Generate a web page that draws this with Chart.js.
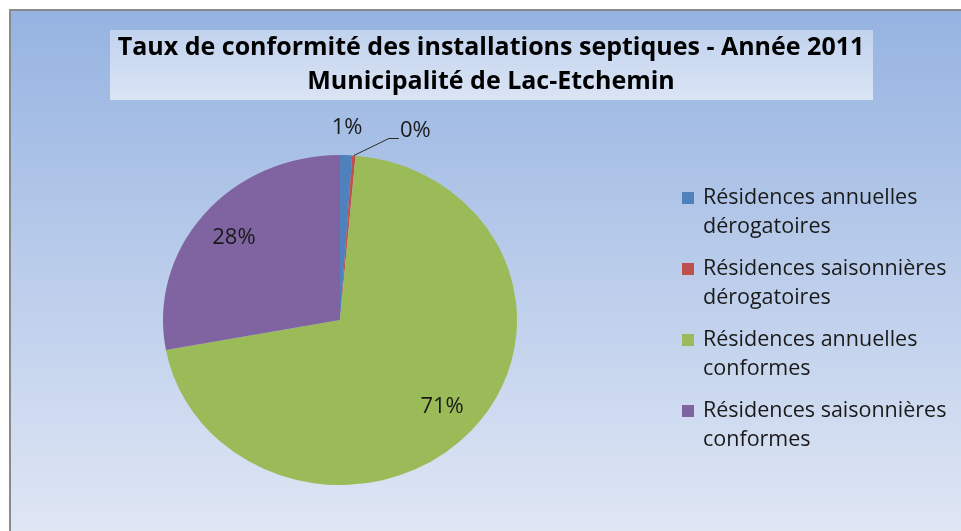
<!DOCTYPE html>
<html>
<head>
<meta charset="utf-8">
<script src="https://cdn.jsdelivr.net/npm/chart.js@4"></script>
<style>
  html, body { margin: 0; padding: 0; background: #fff; }
  canvas { display: block; }
</style>
</head>
<body>
<canvas id="pieChart" width="961" height="531"></canvas>
<script>
// chart data
const categories = [
    'Résidences annuelles dérogatoires',
    'Résidences saisonnières dérogatoires',
    'Résidences annuelles conformes',
    'Résidences saisonnières conformes'
];
const shares = [1.1, 0.3, 70.7, 27.9];
const shareLabels = ['1%', '0%', '71%', '28%'];
const colors = ['#4f81bd', '#c0504d', '#9bbb59', '#8064a2'];
const titleLines = ['Taux de conformité des installations septiques - Année 2011', 'Municipalité de Lac-Etchemin'];

const FONT = '"Open Sans", "Noto Sans", sans-serif';
const squash = 165 / 177; // the original pie is a bit flattened

// background, frame and title box
const backdrop = {
    id: 'backdrop',
    beforeDraw(chart) {
        const ctx = chart.ctx;
        ctx.save();
        ctx.fillStyle = '#ffffff';
        ctx.fillRect(0, 0, chart.width, chart.height);
        const g = ctx.createLinearGradient(0, 10, 0, chart.height);
        g.addColorStop(0, '#95b3e1');
        g.addColorStop(1, '#dfe6f4');
        ctx.fillStyle = g;
        ctx.fillRect(10, 10, chart.width - 10, chart.height - 10);
        ctx.fillStyle = '#8a8a8a';
        ctx.fillRect(9, 9, chart.width - 9, 2);
        ctx.fillRect(9, 9, 2, chart.height - 9);

        const tg = ctx.createLinearGradient(0, 30, 0, 100);
        tg.addColorStop(0, 'rgba(255,255,255,0.4)');
        tg.addColorStop(1, 'rgba(255,255,255,0.6)');
        ctx.fillStyle = tg;
        ctx.fillRect(110, 30, 763, 70);

        ctx.fillStyle = '#000000';
        ctx.font = 'bold 25px ' + FONT;
        ctx.textAlign = 'center';
        ctx.textBaseline = 'middle';
        ctx.fillText(titleLines[0], 491, 48);
        ctx.fillText(titleLines[1], 491, 82);
        ctx.restore();
    },
    beforeDatasetsDraw(chart) {
        const ctx = chart.ctx;
        const arc = chart.getDatasetMeta(0).data[0];
        ctx.save();
        ctx.translate(arc.x, arc.y);
        ctx.scale(1, squash);
        ctx.translate(-arc.x, -arc.y);
    },
    afterDatasetsDraw(chart) {
        chart.ctx.restore();
    }
};

// percentage labels and the legend on the right
const annotations = {
    id: 'annotations',
    afterDraw(chart) {
        const ctx = chart.ctx;
        const arcs = chart.getDatasetMeta(0).data;
        ctx.save();
        ctx.font = '22px ' + FONT;
        ctx.fillStyle = '#1a1a1a';
        ctx.textBaseline = 'middle';
        ctx.textAlign = 'center';
        arcs.forEach((arc, i) => {
            const mid = (arc.startAngle + arc.endAngle) / 2;
            const r = arc.outerRadius;
            const px = (d) => arc.x + Math.cos(mid) * d;
            const py = (d) => arc.y + Math.sin(mid) * d * squash;
            if (i === 1) {
                // tiny slice: leader line to the label
                const sx = px(r), sy = py(r);
                ctx.strokeStyle = '#2b2b2b';
                ctx.lineWidth = 1;
                ctx.beginPath();
                ctx.moveTo(sx, sy);
                ctx.lineTo(sx + 35, sy - 17);
                ctx.lineTo(sx + 45, sy - 17);
                ctx.stroke();
                ctx.textAlign = 'left';
                ctx.fillText(shareLabels[i], sx + 46, sy - 25);
                ctx.textAlign = 'center';
            } else if (shares[i] < 5) {
                ctx.fillText(shareLabels[i], px(r + 30), py(r + 30) + 1);
            } else {
                ctx.fillText(shareLabels[i], px(r * 0.78), py(r * 0.78));
            }
        });

        // legend
        ctx.font = '21.5px ' + FONT;
        ctx.textAlign = 'left';
        categories.forEach((label, i) => {
            const top = 198 + i * 71;
            ctx.fillStyle = colors[i];
            ctx.fillRect(682, top - 6, 12, 12);
            const words = label.split(' ');
            const lines = [];
            let cur = '';
            words.forEach(w => {
                const test = cur ? cur + ' ' + w : w;
                if (ctx.measureText(test).width > 255 && cur) {
                    lines.push(cur);
                    cur = w;
                } else {
                    cur = test;
                }
            });
            lines.push(cur);
            ctx.fillStyle = '#1a1a1a';
            lines.forEach((ln, k) => ctx.fillText(ln, 703, top + k * 29));
        });
        ctx.restore();
    }
};

new Chart(document.getElementById('pieChart'), {
    type: 'pie',
    data: {
        labels: categories,
        datasets: [{
            data: shares,
            backgroundColor: colors,
            borderWidth: 0,
            hoverOffset: 0
        }]
    },
    options: {
        responsive: false,
        animation: false,
        events: [],
        layout: { padding: { left: 163, right: 444, top: 143, bottom: 34 } },
        plugins: {
            legend: { display: false },
            title: { display: false },
            tooltip: { enabled: false }
        }
    },
    plugins: [backdrop, annotations]
});
</script>
</body>
</html>
